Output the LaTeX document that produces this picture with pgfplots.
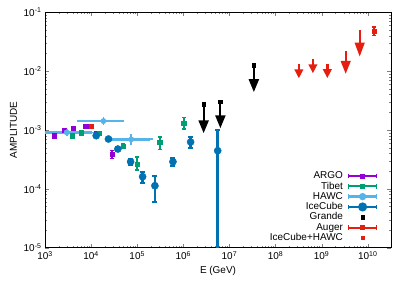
\documentclass[border=0pt]{standalone}
\usepackage{fontspec}
\setmainfont{Liberation Sans}
\setsansfont{Liberation Sans}
\usepackage{pgfplots}
\usepackage{pgfplotstable}
\pgfplotsset{compat=1.18}
\usetikzlibrary{arrows.meta}
\definecolor{argo}{HTML}{9400D3}
\definecolor{tibet}{HTML}{009E73}
\definecolor{hawc}{HTML}{56B4E9}
\definecolor{icecube}{HTML}{0072B2}
\definecolor{auger}{HTML}{E51E10}

\pgfplotstableread{
x y ep em
1590 8.0e-4 0.3e-4 0.3e-4
2590 1.0e-3 0.3e-4 0.3e-4
4120 1.07e-3 0.3e-4 0.3e-4
7670 1.17e-3 0.3e-4 0.3e-4
13300 8.8e-4 0.3e-4 0.3e-4
29000 3.86e-4 0.65e-4 0.6e-4
}\argo

\pgfplotstableread{
x y ep em
3900 8.0e-4 0.35e-4 0.35e-4
6100 9.0e-4 0.35e-4 0.35e-4
15000 8.8e-4 0.4e-4 0.4e-4
50000 5.35e-4 0.45e-4 0.45e-4
100000 2.64e-4 0.86e-4 0.55e-4
306000 6.16e-4 1.5e-4 1.5e-4
1020000 1.32e-3 0.3e-3 0.27e-3
}\tibet

\pgfplotstableread{
x y xp xm ep em
2960 9.1e-4 7700 2100 0.3e-4 0.3e-4
18500 1.42e-3 28000 12900 0.08e-3 0.08e-3
74000 6.93e-4 116000 49000 0.9e-4 0.9e-4
}\hawc

\pgfplotstableread{
x y ep em
12900 8.0e-4 0.5e-4 0.5e-4
23800 7.03e-4 0.4e-4 0.4e-4
38000 4.75e-4 0.35e-4 0.35e-4
72000 2.89e-4 0.35e-4 0.35e-4
131000 1.61e-4 0.34e-4 0.37e-4
242000 1.13e-4 0.53e-4 0.53e-4
596000 2.89e-4 0.5e-4 0.45e-4
1440000 6.25e-4 1.45e-4 1.35e-4
5570000 4.45e-4 5.55e-4 4.449e-4
}\icecube

\pgfplotsset{
  legerr/.style={legend image code/.code={
    \draw[##1, mark=none] (0bp,0bp) -- (28bp,0bp);
    \draw[##1, mark=none, line width=1.2pt] (0bp,-2.2bp) -- (0bp,2.2bp) (28bp,-2.2bp) -- (28bp,2.2bp);
    \path[##1, draw=none] plot coordinates {(14bp,0bp)};
  }},
  legmark/.style={legend image code/.code={
    \path[##1] plot coordinates {(14bp,0bp)};
  }},
}

\begin{document}
\begin{tikzpicture}
\useasboundingbox (-45bp,-43.3bp) rectangle (370bp,247.7bp);
\begin{axis}[
  scale only axis, width=346bp, height=235.4bp,
  xmode=log, ymode=log,
  xmin=1e3, xmax=3.2e10, ymin=1e-5, ymax=1e-1,
  xtick={1e3,1e4,1e5,1e6,1e7,1e8,1e9,1e10},
  xticklabels={10\textsuperscript{3},10\textsuperscript{4},10\textsuperscript{5},10\textsuperscript{6},10\textsuperscript{7},10\textsuperscript{8},10\textsuperscript{9},10\textsuperscript{10}},
  ytick={1e-5,1e-4,1e-3,1e-2,1e-1},
  yticklabels={10\textsuperscript{-5},10\textsuperscript{-4},10\textsuperscript{-3},10\textsuperscript{-2},10\textsuperscript{-1}},
  tick align=inside,
  major tick length=4bp, minor tick length=2bp,
  axis line style={line width=0.8pt},
  xlabel={E (GeV)}, ylabel={AMPLITUDE},
  legend plot pos=right,
  legend cell align=right,
  legend style={draw=none, fill=none, at={(1,0)}, anchor=south east,
    xshift=-13bp, yshift=4.5bp, inner sep=0pt, row sep=0pt, column sep=3bp,
    nodes={inner xsep=1.5bp, inner ysep=0.6bp, text height=7.2bp, text depth=1.9bp}},
]
% ARGO
\addplot[argo, only marks, mark=square*, mark size=2.2bp, forget plot,
  error bars/.cd, y dir=both, y explicit,
  error bar style={line width=2pt, argo}, error mark options={line width=1.5pt, argo, mark size=2bp, rotate=90}]
  table[x=x, y=y, y error plus=ep, y error minus=em]{\argo};
% Tibet
\addplot[tibet, only marks, mark=square*, mark size=2.2bp, forget plot,
  error bars/.cd, y dir=both, y explicit,
  error bar style={line width=2pt, tibet}, error mark options={line width=1.5pt, tibet, mark size=2bp, rotate=90}]
  table[x=x, y=y, y error plus=ep, y error minus=em]{\tibet};
% HAWC
\addplot[hawc, only marks, mark=*, mark size=2.7bp, forget plot,
  error bars/.cd, x dir=both, x explicit, y dir=both, y explicit,
  error bar style={line width=2.6pt, hawc}, error mark options={line width=1.8pt, hawc, mark size=2.5bp}]
  table[x=x, y=y, x error plus=xp, x error minus=xm, y error plus=ep, y error minus=em]{\hawc};
% IceCube
\addplot[icecube, only marks, mark=*, mark size=3.6bp, forget plot,
  error bars/.cd, y dir=both, y explicit,
  error bar style={line width=2.6pt, icecube}, error mark options={line width=2pt, icecube, mark size=2.5bp, rotate=90}]
  table[x=x, y=y, y error plus=ep, y error minus=em]{\icecube};
% Grande upper limits
\addplot[black, line width=2.2pt, -{Triangle[length=13bp,width=10bp]}, forget plot] coordinates {(2.76e6,2.73e-3) (2.76e6,8.8e-4)};
\addplot[black, line width=2.2pt, -{Triangle[length=13bp,width=10bp]}, forget plot] coordinates {(6.37e6,3.03e-3) (6.37e6,1.07e-3)};
\addplot[black, line width=2.2pt, -{Triangle[length=13bp,width=10bp]}, forget plot] coordinates {(3.39e7,1.27e-2) (3.39e7,4.4e-3)};
\addplot[black, only marks, mark=square*, mark size=1.7bp, forget plot] coordinates {(2.76e6,2.73e-3) (6.37e6,3.03e-3) (3.39e7,1.27e-2)};
% Auger upper limits
\addplot[auger, line width=2.4pt, -{Triangle[length=9bp,width=8.5bp]}, forget plot] coordinates {(3.21e8,1.31e-2) (3.21e8,7.55e-3)};
\addplot[auger, line width=2.4pt, -{Triangle[length=9bp,width=8.5bp]}, forget plot] coordinates {(6.47e8,1.61e-2) (6.47e8,9.2e-3)};
\addplot[auger, line width=2.4pt, -{Triangle[length=9bp,width=8.5bp]}, forget plot] coordinates {(1.33e9,1.31e-2) (1.33e9,7.6e-3)};
\addplot[auger, line width=2.4pt, -{Triangle[length=13bp,width=9.5bp]}, forget plot] coordinates {(3.33e9,2.2e-2) (3.33e9,8.95e-3)};
\addplot[auger, line width=2.4pt, -{Triangle[length=14bp,width=9.5bp]}, forget plot] coordinates {(6.7e9,5.0e-2) (6.7e9,1.76e-2)};
% IceCube+HAWC
\addplot[auger, only marks, mark=square*, mark size=2bp, forget plot,
  error bars/.cd, y dir=both, y explicit,
  error bar style={line width=1.8pt, auger}, error mark options={line width=1.5pt, auger, mark size=2bp, rotate=90}]
  coordinates {(1e4,1.17e-3) +- (0,0) (1.37e10,4.82e-2) +- (0,0.8e-2)};
% legend
\addlegendimage{legerr, argo, line width=2pt, mark=square*, mark size=1.5bp}
\addlegendentry{ARGO}
\addlegendimage{legerr, tibet, line width=2pt, mark=square*, mark size=1.8bp}
\addlegendentry{Tibet}
\addlegendimage{legerr, hawc, line width=2.4pt, mark=*, mark size=2.4bp}
\addlegendentry{HAWC}
\addlegendimage{legerr, icecube, line width=2.2pt, mark=*, mark size=3.4bp}
\addlegendentry{IceCube}
\addlegendimage{legmark, black, mark=square*, mark size=1.6bp}
\addlegendentry{Grande}
\addlegendimage{legerr, auger, line width=2pt, mark=square*, mark size=1.2bp}
\addlegendentry{Auger}
\addlegendimage{legmark, auger, mark=square*, mark size=1.8bp}
\addlegendentry{IceCube+HAWC}
\end{axis}
\end{tikzpicture}
\end{document}
